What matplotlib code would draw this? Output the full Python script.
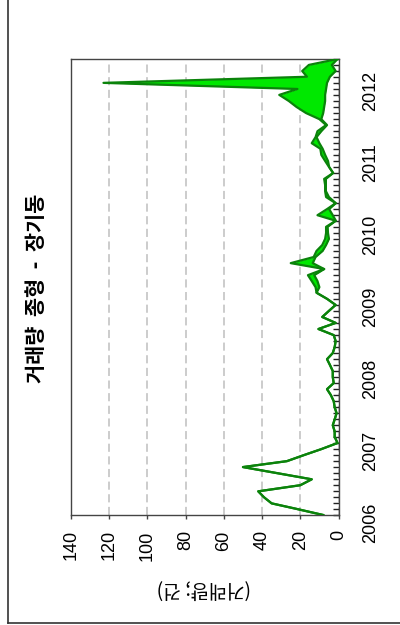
import matplotlib
matplotlib.use('Agg')
import matplotlib.pyplot as plt
import matplotlib.dates as mdates
import matplotlib.transforms as mtransforms
from matplotlib.lines import Line2D
import pandas as pd

plt.rcParams['font.family'] = ['Liberation Sans', 'Noto Sans CJK KR', 'DejaVu Sans']

title = '거래량  종형  -  장기동'
value_label = '(거래량; 건)'
start_month = '2006-01'
value_ticks = [0, 20, 40, 60, 80, 100, 120, 140]

outer = [8, 22, 35, 39, 42, 20, 14, 32, 50, 27, 18, 9,
         0.5, 2, 2, 3, 2, 1, 2, 2.5, 4, 6, 2.5, 3,
         3, 4.5, 6, 3, 2, 1.5, 2.5, 10.5, 1.5, 8.5, 5, 1.5,
         6, 11.5, 12, 14, 16, 7.5, 25, 13, 11.5, 8.5, 7, 6.5,
         6.5, 1.5, 11, 6, 1.5, 6.5, 7, 7, 7.5, 2.8, 5, 7,
         9, 9.5, 14, 12, 11, 6.5, 10, 17, 22, 26, 31, 21.5,
         123, 16.5, 19, 15.5, 0.5]
inner = [8, 22, 35, 39, 42, 20, 14, 32, 50, 27, 18, 9,
         0.5, 2, 2, 3, 2, 1, 2, 2.5, 4, 6, 2.5, 3,
         3, 4.5, 6, 3, 2, 1.5, 2.5, 10.5, 1.5, 8.5, 5, 1.5,
         6, 11.5, 10, 11, 12.7, 7.5, 13.5, 12, 8.3, 6.5, 5, 5.5,
         5.7, 1.4, 3, 4.9, 1.4, 5, 6.6, 6.6, 6.6, 2.8, 4.9, 5.5,
         7, 8.3, 10, 11.5, 9, 6, 9, 8, 7.5, 7, 7, 6.5,
         6, 4.5, 1.5, 3.5, 0.5]

dates = pd.date_range(start_month, periods=len(outer), freq='MS')

W, H = 400, 625
fig = plt.figure(figsize=(W / 100, H / 100), dpi=100)
ax = fig.add_axes([71 / W, 1 - 515 / H, (338.5 - 71) / W, (515 - 59) / H])

ax.fill_betweenx(dates, inner, outer, color='#00e800', lw=0, zorder=2)
ax.plot(outer, dates, color='#0b830b', lw=1.6, zorder=3)
ax.plot(inner, dates, color='#0b830b', lw=1.6, zorder=3)

ax.set_xlim(140, 0)
ax.set_ylim(dates[0], dates[-1])
ax.set_xticks(value_ticks)
ax.xaxis.grid(True, color='#c8c8c8', ls=(0, (4.5, 2.5)), lw=1.3, zorder=0)
ax.set_axisbelow(True)

ax.yaxis.tick_right()
ax.yaxis.set_major_locator(mdates.YearLocator())
ax.yaxis.set_major_formatter(mdates.DateFormatter('%Y'))
ax.yaxis.set_minor_locator(mdates.MonthLocator())
ax.tick_params(axis='y', which='both', direction='in', length=4, width=1,
               color='#222222', labelsize=13, pad=17, labelrotation=90)
ax.tick_params(axis='x', which='both', direction='out', length=3, width=1,
               color='#444444', labelsize=13, pad=8, labelrotation=90)
for lab in ax.get_yticklabels():
    lab.set_transform(lab.get_transform() +
                      mtransforms.ScaledTranslation(0, 4 / 72, fig.dpi_scale_trans))

for s in ax.spines.values():
    s.set_color('#444444')
    s.set_linewidth(1.0)

fig.text(37 / W, 1 - 288 / H, title, rotation=90, ha='center', va='center',
         fontsize=15, fontweight='bold',
         family=['Noto Sans CJK KR', 'DejaVu Sans'])
fig.text(204 / W, 1 - 588 / H, value_label, rotation=180, ha='center', va='center',
         fontsize=14, family=['Noto Sans CJK KR', 'DejaVu Sans'])

fig.add_artist(Line2D([7.5 / W, 7.5 / W], [1 - 623 / H, 1], color='#333333', lw=1.2))
fig.add_artist(Line2D([7.5 / W, 1], [1 - 623 / H, 1 - 623 / H], color='#333333', lw=1.2))

fig.savefig('out.png', dpi=100)
